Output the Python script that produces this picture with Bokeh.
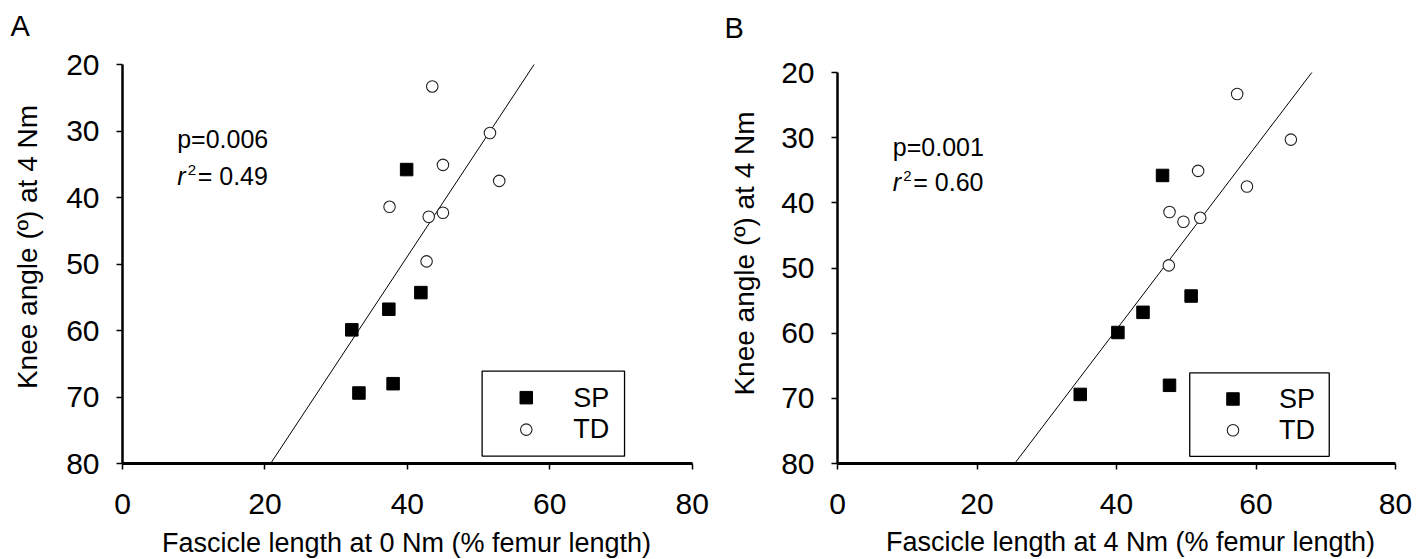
import math
from bokeh.plotting import figure
from bokeh.models import Range1d, FixedTicker, Label, LinearAxis
from bokeh.layouts import row
from bokeh.embed import file_html
from bokeh.resources import INLINE

# ---------------- data ----------------
# knee angle (deg) at 4 Nm, shared by both panels
sp_knee = [35.8, 54.3, 56.8, 59.9, 68.0, 69.4]
td_knee = [23.3, 30.3, 35.1, 37.5, 41.4, 42.9, 42.3, 49.6]
# fascicle length at 0 Nm (% femur length) - panel A
sp_fl0 = [39.9, 41.9, 37.4, 32.2, 38.0, 33.2]
td_fl0 = [43.5, 51.6, 45.0, 52.9, 37.5, 43.0, 45.0, 42.7]
# fascicle length at 4 Nm (% femur length) - panel B
sp_fl4 = [46.6, 50.7, 43.8, 40.2, 47.6, 34.8]
td_fl4 = [57.3, 65.0, 51.7, 58.7, 47.6, 49.6, 52.0, 47.5]
# regression lines (end points)
fit_a_x = [20.8, 57.8]
fit_a_y = [80, 20]
fit_b_x = [25.4, 68.0]
fit_b_y = [80, 20]
# stats
stats_a = ["p=0.006", "r", "2", "= 0.49"]
stats_b = ["p=0.001", "r", "2", "= 0.60"]
# ticks
x_ticks = [0, 20, 40, 60, 80]
y_ticks = [20, 30, 40, 50, 60, 70, 80]
legend_labels = ["SP", "TD"]
y_title = "Knee angle (º) at 4 Nm"
x_title_a = "Fascicle length at 0 Nm (% femur length)"
x_title_b = "Fascicle length at 4 Nm (% femur length)"

FONT = "Liberation Sans"
W, H = 714, 559
STAT_FS = 25


def make_panel(letter, sp_x, td_x, fit_x, fit_y, stats, xlabel, g):
    # g: pixel layout of the panel inside its own canvas
    def X(px):
        return (px - g["x0"]) / g["sx"]

    def Y(py):
        return 20 + (py - g["y20"]) / g["sy"]

    def label(px, py, text, size, **kw):
        # py is the visual centre line of the text
        return Label(x=X(px), y=Y(py), text=text, text_font=FONT,
                     text_font_size=f"{size}px", text_baseline="middle",
                     text_color="black", **kw)

    p = figure(width=W, height=H, output_backend="svg", toolbar_location=None,
               x_range=Range1d(X(0), X(W)), y_range=Range1d(Y(H), Y(0)),
               x_axis_location=None, y_axis_location=None, min_border=0)
    p.outline_line_color = None
    p.grid.visible = False
    p.background_fill_color = "white"
    p.border_fill_color = "white"

    xa = LinearAxis(fixed_location=80, bounds=(0, 80), ticker=FixedTicker(ticks=x_ticks))
    ya = LinearAxis(fixed_location=0, bounds=(20, 80), ticker=FixedTicker(ticks=y_ticks))
    for ax in (xa, ya):
        ax.axis_line_color = "black"
        ax.major_tick_line_color = "black"
        ax.major_tick_line_width = 1.5
        ax.major_tick_out = 6
        ax.major_tick_in = 0
        ax.minor_tick_line_color = None
        ax.major_label_text_font = FONT
        ax.major_label_text_font_size = "30px"
        ax.major_label_text_color = "black"
    xa.axis_line_width = 3
    ya.axis_line_width = 2.5
    xa.major_label_standoff = 24
    ya.major_label_standoff = 17
    p.add_layout(xa, "below")
    p.add_layout(ya, "left")

    # regression line
    p.line(fit_x, fit_y, line_color="black", line_width=1)
    # points
    p.scatter(sp_x, sp_knee, marker="square", size=12.5, fill_color="black", line_color="black")
    p.scatter(td_x, td_knee, marker="circle", size=11.5, fill_color="white",
              line_color="#222222", line_width=1.1)

    # stats text (baseline positions -> centre lines)
    tx, ty1, ty2 = g["stats"]
    c1 = ty1 - 0.35 * STAT_FS
    c2 = ty2 - 0.35 * STAT_FS
    p.add_layout(label(tx, c1, stats[0], STAT_FS))
    p.add_layout(label(tx, c2, stats[1], STAT_FS, text_font_style="italic"))
    p.add_layout(label(tx, c2, stats[2], 15, x_offset=10.5, y_offset=6))
    p.add_layout(label(tx, c2, stats[3], STAT_FS, x_offset=20.5))

    # legend box
    p.quad(left=[50.5], right=[70.5], top=[66.1], bottom=[78.9], fill_color="white",
           line_color="black", line_width=1.3)
    p.scatter([56.7], [70.1], marker="square", size=12.5, fill_color="black", line_color="black")
    p.scatter([56.7], [74.9], marker="circle", size=11.5, fill_color="white",
              line_color="#222222", line_width=1.1)
    for lab, yy in zip(legend_labels, [70.1, 74.8]):
        p.add_layout(Label(x=63.3, y=yy, text=lab, text_font=FONT, text_font_size="27px",
                           text_baseline="middle", text_align="left", text_color="black"))

    # panel letter
    lx, ly = g["letter"]
    p.add_layout(label(lx, ly, letter, 29))
    # y axis title (rotated)
    yx, yy = g["ytitle"]
    p.add_layout(Label(x=X(yx), y=Y(yy), text=y_title, angle=math.pi / 2,
                       text_font=FONT, text_font_size="28px", text_align="center",
                       text_baseline="middle", text_color="black"))
    # x axis title
    xx, xy = g["xtitle"]
    p.add_layout(label(xx, xy, xlabel, 27, text_align="center"))
    return p


geom_a = dict(x0=122, sx=(691.7 - 122) / 80, y20=64, sy=(463 - 64) / 60,
              stats=(176.7, 147.3, 184), letter=(10, 25), ytitle=(26.5, 246.5),
              xtitle=(406, 542))
geom_b = dict(x0=123, sx=(681 - 123) / 80, y20=72, sy=(463 - 72) / 60,
              stats=(178.3, 155, 190), letter=(10, 27), ytitle=(29.5, 253),
              xtitle=(416, 541))

pa = make_panel("A", sp_fl0, td_fl0, fit_a_x, fit_a_y, stats_a, x_title_a, geom_a)
pb = make_panel("B", sp_fl4, td_fl4, fit_b_x, fit_b_y, stats_b, x_title_b, geom_b)

layout = row(pa, pb)
open("out.html", "w").write(file_html(layout, INLINE))
